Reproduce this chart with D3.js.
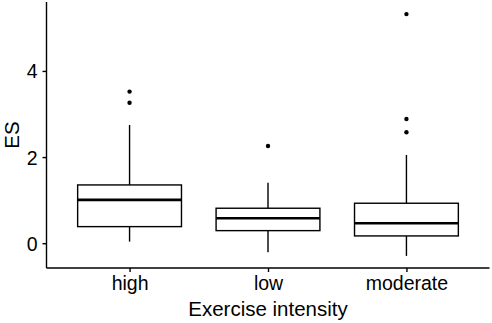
<!DOCTYPE html>
<html><head><meta charset="utf-8">
<script src="https://cdn.jsdelivr.net/npm/d3@7"></script>
<style>body{margin:0;background:#fff}svg{display:block}text{font-family:"Liberation Sans",Arial,sans-serif;fill:#000}</style>
</head><body><svg id="c" width="492" height="323"></svg>
<script>
const categories = ["high", "low", "moderate"];
const q1 = [0.385, 0.292, 0.169];
const medians = [1.005, 0.58, 0.464];
const q3 = [1.353, 0.812, 0.928];
const whiskerLow = [0.037, -0.209, -0.295];
const whiskerHigh = [2.745, 1.406, 2.049];
const outliers = [[3.52, 3.26], [2.257], [5.32, 2.884, 2.575]];
const yTicks = [0, 2, 4];
const xTitle = "Exercise intensity";
const yTitle = "ES";

(function () {
const pLeft = 46.5, pRight = 489.5, pTop = 2, pBottom = 268;
const svg = d3.select("#c");

const allVals = [...whiskerLow, ...whiskerHigh, ...outliers.flat()];
const [mn, mx] = d3.extent(allVals);
const pad = (mx - mn) * 0.05;
const y = d3.scaleLinear().domain([mn - pad, mx + pad]).range([pBottom, pTop]);
const x = d3.scalePoint().domain(categories).range([pLeft, pRight]).padding(0.6);
const bw = x.step() * 0.75;

const g = svg.append("g");
categories.forEach((c, i) => {
  const cx = x(c);
  g.append("line").attr("x1", cx).attr("x2", cx).attr("y1", y(q3[i])).attr("y2", y(whiskerHigh[i]))
    .attr("stroke", "#000").attr("stroke-width", 1.4);
  g.append("line").attr("x1", cx).attr("x2", cx).attr("y1", y(q1[i])).attr("y2", y(whiskerLow[i]))
    .attr("stroke", "#000").attr("stroke-width", 1.4);
  g.append("rect").attr("x", cx - bw / 2).attr("y", y(q3[i])).attr("width", bw)
    .attr("height", y(q1[i]) - y(q3[i])).attr("fill", "#fff").attr("stroke", "#000").attr("stroke-width", 1.4);
  g.append("line").attr("x1", cx - bw / 2).attr("x2", cx + bw / 2).attr("y1", y(medians[i])).attr("y2", y(medians[i]))
    .attr("stroke", "#000").attr("stroke-width", 2.6);
  outliers[i].forEach(v => {
    g.append("circle").attr("cx", cx).attr("cy", y(v)).attr("r", 2.2).attr("fill", "#000");
  });
});

const yAxis = svg.append("g").attr("transform", `translate(${pLeft},0)`)
  .call(d3.axisLeft(y).tickValues(yTicks).tickSize(4).tickPadding(5).tickFormat(d3.format("d")));
yAxis.select(".domain").attr("d", `M0,${pTop}V${pBottom}`);
const xAxis = svg.append("g").attr("transform", `translate(0,${pBottom})`)
  .call(d3.axisBottom(x).tickSize(4).tickPadding(4));
xAxis.select(".domain").attr("d", `M${pLeft},0H${pRight}`);
[yAxis, xAxis].forEach(a => {
  a.selectAll(".domain, line").attr("stroke", "#000").attr("stroke-width", 1.4);
  a.selectAll("text").attr("font-size", 19.5).attr("fill", "#000").style("font-family", "'Liberation Sans', Arial, sans-serif");
});
yAxis.selectAll("text").attr("dy", "0.36em");

svg.append("text").attr("x", (pLeft + pRight) / 2).attr("y", 316).attr("text-anchor", "middle")
  .attr("font-size", 20.5).text(xTitle);
svg.append("text").attr("transform", `translate(19,${(pTop + pBottom) / 2}) rotate(-90)`)
  .attr("text-anchor", "middle").attr("font-size", 20.5).text(yTitle);
})();
</script></body></html>
